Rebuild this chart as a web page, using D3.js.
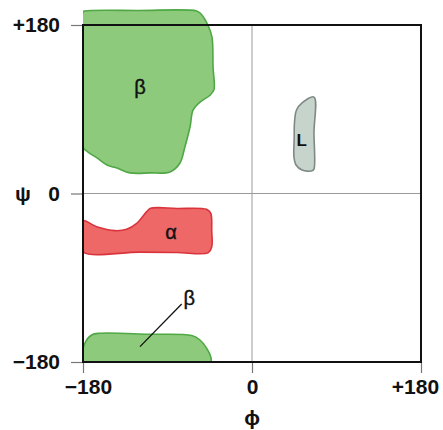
<!DOCTYPE html>
<html>
<head>
<meta charset="utf-8">
<script src="https://cdn.jsdelivr.net/npm/d3@7"></script>
<style>
  html, body { margin: 0; padding: 0; background: #fff; }
  svg { display: block; }
  text { font-family: "Liberation Sans", Arial, sans-serif; }
</style>
</head>
<body>
<svg id="chart" width="443" height="430"></svg>
<script>
// ---- data (phi, psi in degrees) ----
const tickValues = [-180, 0, 180];
const tickLabels = ["\u2212180", "0", "+180"];

const betaTop = [
  [-180, 194], [-178, 195], [-120, 195.5], [-59, 195], [-55, 192.5], [-47, 180],
  [-42.6, 167], [-41.5, 135], [-40.5, 111], [-44.7, 105], [-55.4, 97.7],
  [-62.8, 89], [-66, 71], [-71.4, 50], [-76.7, 32.6], [-87.3, 23],
  [-108.6, 22], [-129.9, 22], [-143.8, 27.2], [-154.4, 30.5], [-165.1, 38],
  [-174.7, 44.3], [-180, 49.7], [-180, 120]
];
const alpha = [
  [-180, -29], [-165.4, -35.5], [-145.9, -39.7], [-133.5, -38.2], [-122.8, -31.8],
  [-112.2, -19.4], [-108, -15.8], [-80, -16], [-48.5, -16.9], [-44, -21],
  [-42.9, -40], [-42.9, -57], [-46.5, -63.2], [-80, -63], [-120, -62.6],
  [-180, -62.2], [-180, -45]
];
const betaBottom = [
  [-180, -180], [-178, -160], [-170.7, -151.1], [-161.9, -149.3], [-110, -150.3],
  [-64.2, -151.8], [-55.4, -156.5], [-48.2, -165.4], [-44, -174.3], [-44, -180],
  [-110, -180]
];
const regionL = [
  [66, 103], [53.3, 96.7], [47.4, 89.2], [45.3, 76.4], [44.9, 58],
  [44.7, 39], [46.9, 30.5], [53.3, 25.1], [64, 24.2], [66, 26], [66, 65]
];
const regionNames = ["β", "α", "β", "L"];
const labelPos = [[-119.3, 114], [-86.3, -40.8], [-66.8, -112], [52.9, 57]];
const leader = [[-74.9, -118], [-119.3, -163.6]];

// ---- layout ----
const margin = { left: 83, top: 25 };
const W = 338, H = 337;
const svg = d3.select("#chart");
const g = svg.append("g").attr("transform", `translate(${margin.left},${margin.top})`);

const x = d3.scaleLinear().domain([-180, 180]).range([0, W]);
const y = d3.scaleLinear().domain([-180, 180]).range([H, 0]);

svg.append("defs").append("clipPath").attr("id", "clip")
  .append("rect").attr("x", 0).attr("y", -40).attr("width", W + 40).attr("height", H + 40);

const line = d3.line().x(d => x(d[0])).y(d => y(d[1])).curve(d3.curveCatmullRomClosed.alpha(0.5));

const regions = [
  { pts: betaTop, fill: "#8dca7c", stroke: "#4fa845" },
  { pts: alpha, fill: "#ee6868", stroke: "#d9333c" },
  { pts: betaBottom, fill: "#8dca7c", stroke: "#4fa845" },
  { pts: regionL, fill: "#c6d4cc", stroke: "#7e8a85" }
];

const rg = g.append("g").attr("clip-path", "url(#clip)");
rg.selectAll("path").data(regions).join("path")
  .attr("d", d => line(d.pts))
  .attr("fill", d => d.fill)
  .attr("stroke", d => d.stroke)
  .attr("stroke-width", 1.6);

// grid lines at zero
g.append("line").attr("x1", x(0)).attr("x2", x(0)).attr("y1", 0).attr("y2", H)
  .attr("stroke", "#9a9a9a").attr("stroke-width", 1);
g.append("line").attr("x1", 0).attr("x2", W).attr("y1", y(0)).attr("y2", y(0))
  .attr("stroke", "#9a9a9a").attr("stroke-width", 1);

// axes
const fmt = v => tickLabels[tickValues.indexOf(v)];
const yAxis = g.append("g").call(d3.axisLeft(y).tickValues(tickValues).tickSize(12).tickPadding(8).tickFormat(fmt));
const xAxis = g.append("g").attr("transform", `translate(0,${H})`)
  .call(d3.axisBottom(x).tickValues(tickValues).tickSize(11).tickPadding(8).tickFormat(fmt));
[yAxis, xAxis].forEach(a => {
  a.select(".domain").remove();
  a.selectAll(".tick line").attr("stroke", "#777").attr("stroke-width", 1.2);
  a.selectAll(".tick text").attr("fill", "#111").attr("font-size", 21).attr("font-weight", "bold");
});
xAxis.selectAll(".tick text").attr("dx", d => d < 0 ? 5 : (d > 0 ? -6 : 0)).attr("dy", "0.62em");
yAxis.selectAll(".tick text").attr("dx", -3);

// box
g.append("rect").attr("x", 0).attr("y", 0).attr("width", W).attr("height", H)
  .attr("fill", "none").attr("stroke", "#111").attr("stroke-width", 2);

// region labels
g.selectAll(".rl").data(regionNames).join("text")
  .attr("class", "rl")
  .attr("x", (d, i) => x(labelPos[i][0]))
  .attr("y", (d, i) => y(labelPos[i][1]))
  .attr("text-anchor", "middle").attr("dominant-baseline", "central")
  .attr("font-size", (d, i) => i === 3 ? 17 : 20)
  .attr("font-weight", (d, i) => i === 3 ? "bold" : "normal")
  .attr("stroke", (d, i) => i === 3 ? "none" : "#111")
  .attr("stroke-width", 0.4)
  .attr("fill", "#111")
  .text(d => d);

// leader line
g.append("line")
  .attr("x1", x(leader[0][0])).attr("y1", y(leader[0][1]))
  .attr("x2", x(leader[1][0])).attr("y2", y(leader[1][1]))
  .attr("stroke", "#111").attr("stroke-width", 1.3);

// axis titles
svg.append("text").attr("x", 23).attr("y", margin.top + y(0)).attr("text-anchor", "middle")
  .attr("dominant-baseline", "central").attr("font-size", 21).attr("font-weight", "bold")
  .attr("fill", "#111").text("ψ");
svg.append("text").attr("x", margin.left + x(0)).attr("y", 417).attr("text-anchor", "middle")
  .attr("dominant-baseline", "central").attr("font-size", 21).attr("font-weight", "bold")
  .attr("fill", "#111").text("ϕ");
</script>
</body>
</html>
